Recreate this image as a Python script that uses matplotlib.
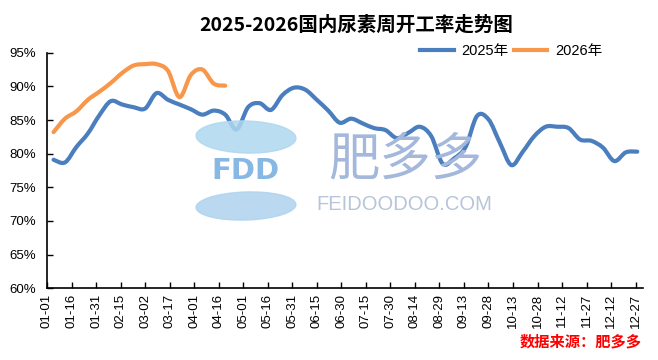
import numpy as np
import matplotlib
matplotlib.use("Agg")
import matplotlib.pyplot as plt
from matplotlib.patches import Ellipse, PathPatch
from matplotlib.path import Path
from matplotlib.lines import Line2D

plt.rcParams['font.family'] = ['Liberation Sans', 'Noto Sans CJK SC', 'DejaVu Sans']

# ---------------- data ----------------
tick_labels = ["01-01", "01-16", "01-31", "02-15", "03-02", "03-17", "04-01", "04-16",
               "05-01", "05-16", "05-31", "06-15", "06-30", "07-15", "07-30", "08-14",
               "08-29", "09-13", "09-28", "10-13", "10-28", "11-12", "11-27", "12-12", "12-27"]
tick_days = list(range(0, 361, 15))

rate_2025 = [79.1, 78.7, 81.0, 83.0, 85.7, 87.8, 87.3, 86.9, 86.7, 89.0,
             88.0, 87.3, 86.6, 85.8, 86.4, 85.8, 83.6, 86.9, 87.5, 86.5,
             88.7, 89.8, 89.5, 88.0, 86.4, 84.6, 85.2, 84.5, 83.8, 83.5,
             82.3, 83.1, 84.0, 82.6, 78.5, 79.3, 81.0, 85.6, 85.1, 81.6,
             78.3, 80.3, 82.6, 84.0, 84.0, 83.8, 82.1, 81.9, 80.9, 78.9,
             80.2, 80.3]
rate_2026 = [83.2, 85.2, 86.3, 88.0, 89.2, 90.5, 92.0, 93.1, 93.3, 93.3,
             92.3, 88.4, 91.7, 92.5, 90.4, 90.1]

first_day = 4
week_step = 7
days_2025 = first_day + week_step * np.arange(len(rate_2025))
days_2026 = first_day + week_step * np.arange(len(rate_2026))

c2025 = "#4a7ebf"
c2026 = "#f8964a"

# ---------------- figure ----------------
W, H = 658, 360
fig = plt.figure(figsize=(W / 100, H / 100), dpi=100)
ax = fig.add_axes([47 / W, 1 - 288.3 / H, (643 - 47) / W, (288.3 - 52.7) / H])


def fx(x):
    return x / W


def fy(y):
    return 1 - y / H


# watermark
wm_leaf_top = Ellipse((fx(246), fy(137)), 100 / W, 32 / H, angle=-4,
                      transform=fig.transFigure, color="#aed7ef", alpha=0.85, zorder=0)
wm_leaf_bot = Ellipse((fx(246), fy(206)), 100 / W, 28 / H, angle=4,
                      transform=fig.transFigure, color="#aed3ee", alpha=0.85, zorder=0)
fig.patches.extend([wm_leaf_top, wm_leaf_bot])
fig.text(fx(245), fy(171), "FDD", fontsize=21, fontweight="bold", color="#86b8e3",
         ha="center", va="center", family=["DejaVu Sans"], zorder=1)
fig.text(fx(405), fy(160), "肥多多", fontsize=37, color="#a4b8dc",
         ha="center", va="center", family=["Noto Sans CJK SC"], zorder=1)
fig.text(fx(404), fy(205), "FEIDOODOO.COM", fontsize=14.5, color="#b8c4d9",
         ha="center", va="center", family=["Liberation Sans"], zorder=1)

ax.patch.set_alpha(0)


def smooth_path(xs, ys):
    """Excel-style smoothed line: cubic Bezier through every data point."""
    pts = np.column_stack([xs, ys]).astype(float)
    n = len(pts)
    verts = [pts[0]]
    codes = [Path.MOVETO]
    for i in range(n - 1):
        p0 = pts[i - 1] if i > 0 else pts[i]
        p1 = pts[i]
        p2 = pts[i + 1]
        p3 = pts[i + 2] if i + 2 < n else pts[i + 1]
        c1 = p1 + (p2 - p0) / 6.0
        c2 = p2 - (p3 - p1) / 6.0
        verts += [c1, c2, p2]
        codes += [Path.CURVE4] * 3
    return Path(verts, codes)


for xs, ys, col in [(days_2025, rate_2025, c2025), (days_2026, rate_2026, c2026)]:
    patch = PathPatch(smooth_path(xs, ys), facecolor="none", edgecolor=col, lw=3.0,
                      joinstyle="round", capstyle="round", zorder=3)
    ax.add_patch(patch)

ax.set_xlim(0, 364.5)
ax.set_ylim(60, 95)
ax.set_xticks(tick_days)
ax.set_xticklabels(tick_labels, rotation=90, fontsize=9.5)
ax.set_yticks(np.arange(60, 96, 5))
ax.set_yticklabels([f"{v}%" for v in range(60, 96, 5)], fontsize=9.5)
ax.tick_params(axis="both", direction="in", length=4, width=1, color="black", pad=4)
ax.tick_params(axis="y", pad=8)
for s in ["top", "right"]:
    ax.spines[s].set_visible(False)
for s in ["left", "bottom"]:
    ax.spines[s].set_color("black")
    ax.spines[s].set_linewidth(1.2)

fig.text(fx(356), fy(25), "2025-2026国内尿素周开工率走势图", fontsize=14, fontweight="bold",
         ha="center", va="center", family=["Noto Sans CJK SC"])

handles = [Line2D([], [], color=c2025, lw=3.0), Line2D([], [], color=c2026, lw=3.0)]
fig.legend(handles, ["2025年", "2026年"], loc="center", bbox_to_anchor=(fx(511), fy(51)),
           ncol=2, frameon=False, fontsize=10.5, handlelength=2.3, handletextpad=0.5,
           columnspacing=0.4, borderaxespad=0, borderpad=0)

fig.text(fx(642), fy(342), "数据来源：肥多多", fontsize=11, fontweight="bold", color="#ff0000",
         ha="right", va="center", style="italic", family=["Noto Sans CJK SC"])

fig.savefig("out.png", dpi=100)
